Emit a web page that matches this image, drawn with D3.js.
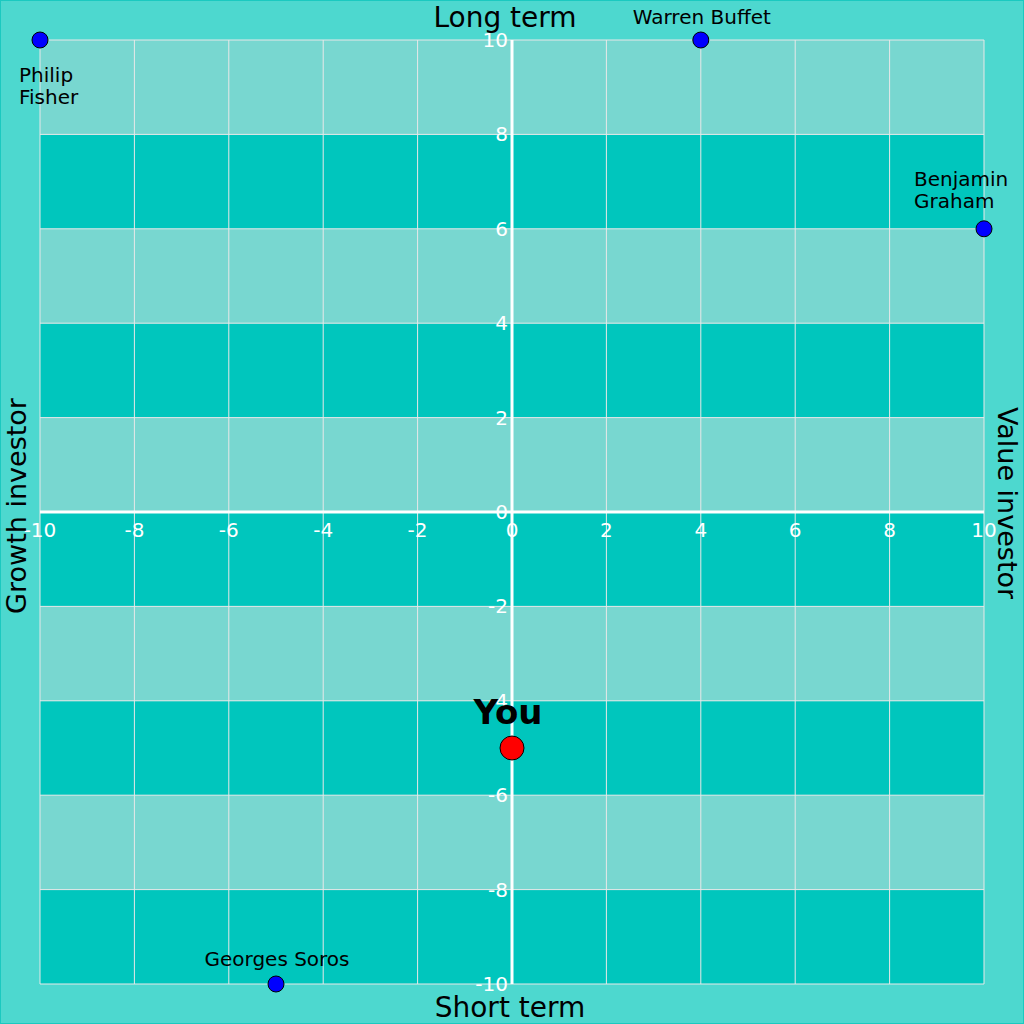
<!DOCTYPE html>
<html><head><meta charset="utf-8">
<script src="https://cdn.jsdelivr.net/npm/d3@7"></script>
<style>body{margin:0;background:#4dd8cf}svg{display:block}text{font-family:"DejaVu Sans",Verdana,sans-serif}</style>
</head><body><svg id="c" width="1024" height="1024"></svg>
<script>
const xTicks = [-10,-8,-6,-4,-2,0,2,4,6,8,10];
const yTicks = [-10,-8,-6,-4,-2,0,2,4,6,8,10];
const bandStarts = [-10,-8,-6,-4,-2,0,2,4,6,8];
const investorNames = [["Philip","Fisher"],["Warren Buffet"],["Benjamin","Graham"],["Georges Soros"]];
const investorX = [-10,4,10,-5];
const investorY = [10,10,6,-10];
const labelAnchor = ["start","middle","start","middle"];
const labelDx = [-21,1,-70,1];
const labelDy = [42,-16,-43,-18];
const youX = [0], youY = [-5], youLabel = ["You"];
const axisTitles = {top:"Long term",bottom:"Short term",left:"Growth investor",right:"Value investor"};

const svg = d3.select("#c");
const W=1024,H=1024;
svg.append("rect").attr("x",0.5).attr("y",0.5).attr("width",W-1).attr("height",H-1).attr("fill","#4dd8cf").attr("stroke","#1bc9c0");
const x = d3.scaleLinear().domain([-10,10]).range([40,984]);
const y = d3.scaleLinear().domain([-10,10]).range([984,40]);

// bands
svg.append("g").selectAll("rect").data(bandStarts).join("rect")
  .attr("x",x(-10)).attr("width",x(10)-x(-10))
  .attr("y",d=>y(d+2)).attr("height",d=>y(d)-y(d+2))
  .attr("fill",d=>(((d+10)/2)%2===0)?"#00c6bd":"#78d7d0");

// grid
const g=svg.append("g").attr("stroke","#e8e8e8").attr("stroke-width",1);
g.selectAll(".vx").data(xTicks).join("line").attr("x1",d=>x(d)).attr("x2",d=>x(d)).attr("y1",y(10)).attr("y2",y(-10));
g.selectAll(".hy").data(yTicks).join("line").attr("class","hy").attr("y1",d=>y(d)).attr("y2",d=>y(d)).attr("x1",x(-10)).attr("x2",x(10));

// axes
svg.append("line").attr("x1",x(-10)).attr("x2",x(10)).attr("y1",y(0)).attr("y2",y(0)).attr("stroke","#fff").attr("stroke-width",3);
svg.append("line").attr("x1",x(0)).attr("x2",x(0)).attr("y1",y(10)).attr("y2",y(-10)).attr("stroke","#fff").attr("stroke-width",3);

// tick labels
svg.append("g").selectAll("text").data(xTicks).join("text")
  .attr("x",d=>x(d)).attr("y",y(0)+18).attr("dy","0.35em").attr("text-anchor","middle")
  .attr("fill","#fff").attr("font-size",20).text(d=>d);
svg.append("g").selectAll("text").data(yTicks).join("text")
  .attr("x",x(0)-4).attr("y",d=>y(d)).attr("dy","0.35em").attr("text-anchor","end")
  .attr("fill","#fff").attr("font-size",20).text(d=>d);

// titles
svg.append("text").attr("x",505).attr("y",27).attr("text-anchor","middle").attr("font-size",28).text(axisTitles.top);
svg.append("text").attr("x",510).attr("y",1017).attr("text-anchor","middle").attr("font-size",28).text(axisTitles.bottom);
svg.append("text").attr("transform","translate(26,506) rotate(-90)").attr("text-anchor","middle").attr("font-size",27).text(axisTitles.left);
svg.append("text").attr("transform","translate(998,503) rotate(90)").attr("text-anchor","middle").attr("font-size",27).text(axisTitles.right);

// investors
const inv = investorNames.map((n,i)=>({n,x:investorX[i],y:investorY[i],a:labelAnchor[i],dx:labelDx[i],dy:labelDy[i]}));
svg.append("g").selectAll("circle").data(inv).join("circle")
  .attr("cx",d=>x(d.x)).attr("cy",d=>y(d.y)).attr("r",8).attr("fill","#0000ff").attr("stroke","#000").attr("stroke-width",1);
const lt = svg.append("g").selectAll("text").data(inv).join("text")
  .attr("x",d=>x(d.x)+d.dx).attr("y",d=>y(d.y)+d.dy).attr("text-anchor",d=>d.a).attr("font-size",20).attr("fill","#000");
lt.each(function(d){
  d3.select(this).selectAll("tspan").data(d.n).join("tspan")
    .attr("x",x(d.x)+d.dx).attr("dy",(t,i)=>i===0?0:"1.1em").text(t=>t);
});

// You
svg.append("circle").attr("cx",x(youX[0])).attr("cy",y(youY[0])).attr("r",12).attr("fill","#ff0000").attr("stroke","#000").attr("stroke-width",1);
svg.append("text").attr("x",x(youX[0])-4).attr("y",y(youY[0])-24).attr("text-anchor","middle").attr("font-size",34).attr("font-weight","bold").text(youLabel[0]);
</script></body></html>
